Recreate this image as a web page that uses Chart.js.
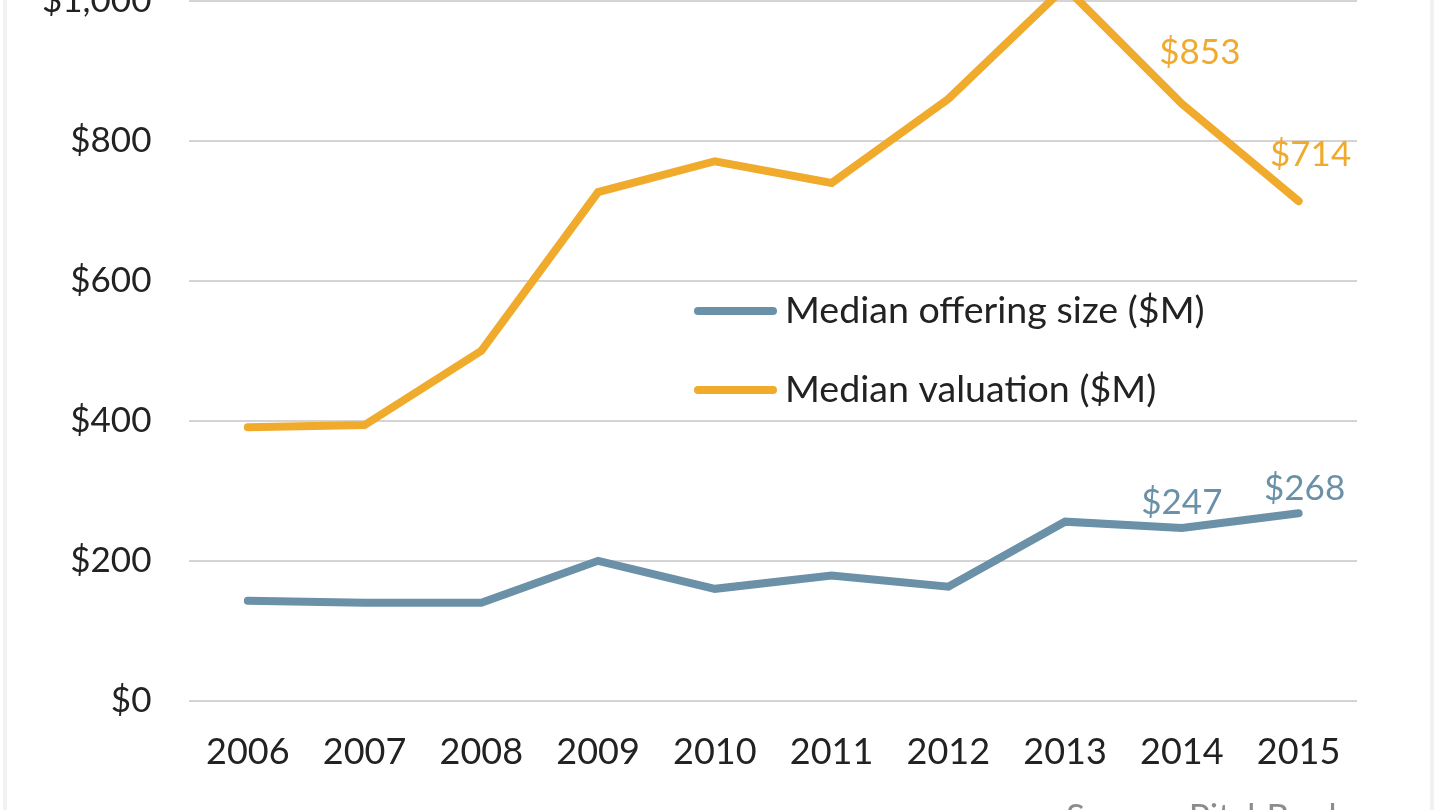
<!DOCTYPE html>
<html>
<head>
<meta charset="utf-8">
<script src="https://cdn.jsdelivr.net/npm/chart.js@4/dist/chart.umd.min.js"></script>
<style>
  html, body { margin: 0; padding: 0; background: #fff; overflow: hidden; }
  body { width: 1440px; height: 810px; position: relative; }
  #chart { position: absolute; left: 0; top: 0; }
  #source { position: absolute; left: 1066px; top: 794px; font: 35px Lato, sans-serif; color: #8c8c8c; white-space: nowrap; }
  #edgeL { position: absolute; left: 3px; top: 0; width: 4px; height: 810px; background: #f2f2f2; }
  #edgeR { position: absolute; left: 1430px; top: 0; width: 4px; height: 810px; background: #f2f2f2; }
</style>
</head>
<body>
<div id="edgeL"></div>
<div id="edgeR"></div>
<canvas id="chart" width="1440" height="810"></canvas>
<div id="source">Source: PitchBook</div>
<script>
var years = ["2006", "2007", "2008", "2009", "2010", "2011", "2012", "2013", "2014", "2015"];
var offeringSize = [143, 140, 140, 200, 160, 179, 163, 256, 247, 268];
var valuation = [391, 394, 500, 727, 771, 740, 860, 1020, 853, 714];
var labelledYears = ["2014", "2015"];

var blue = "#6a91a7";
var orange = "#f0aa2c";

// value labels on the last two points + legend drawn inside the plot
var extras = {
    id: 'extras',
    afterDatasetsDraw: function (chart) {
        var ctx = chart.ctx;
        var x = chart.scales.x, y = chart.scales.y;
        var offs = [[[0, -25], [6, -25]], [[18, -51], [12, -46]]];
        ctx.save();
        ctx.font = '35px Lato';
        ctx.textAlign = 'center';
        ctx.textBaseline = 'middle';
        chart.data.datasets.forEach(function (ds, di) {
            ctx.fillStyle = ds.borderColor;
            labelledYears.forEach(function (yr, k) {
                var i = years.indexOf(yr);
                ctx.fillText('$' + ds.data[i], x.getPixelForValue(i) + offs[di][k][0], y.getPixelForValue(ds.data[i]) + offs[di][k][1]);
            });
        });
        // legend
        var lx = 698, ly = [311, 390];
        ctx.textAlign = 'left';
        ctx.font = '37.6px Lato';
        chart.data.datasets.forEach(function (ds, di) {
            ctx.strokeStyle = ds.borderColor;
            ctx.lineWidth = 8;
            ctx.lineCap = 'round';
            ctx.beginPath();
            ctx.moveTo(lx, ly[di]);
            ctx.lineTo(lx + 75, ly[di]);
            ctx.stroke();
            ctx.fillStyle = '#222';
            ctx.fillText(ds.label, lx + 87, ly[di]);
        });
        ctx.restore();
    }
};

new Chart(document.getElementById("chart"), {
    type: 'line',
    data: {
        labels: years,
        datasets: [
            {
                label: "Median offering size ($M)",
                data: offeringSize,
                borderColor: blue,
                backgroundColor: blue,
                borderWidth: 8,
                borderCapStyle: 'round',
                pointRadius: 0,
                tension: 0,
                clip: false
            },
            {
                label: "Median valuation ($M)",
                data: valuation,
                borderColor: orange,
                backgroundColor: orange,
                borderWidth: 8,
                borderCapStyle: 'round',
                pointRadius: 0,
                tension: 0,
                clip: false
            }
        ]
    },
    options: {
        responsive: false,
        animation: false,
        layout: { padding: { top: 1, right: 83, left: 4, bottom: 14 } },
        plugins: {
            legend: { display: false },
            tooltip: { enabled: false }
        },
        scales: {
            x: {
                offset: true,
                grid: { display: false },
                border: { display: false },
                ticks: { color: '#222', font: { family: 'Lato', size: 36 }, padding: 22 }
            },
            y: {
                min: 0,
                max: 1000,
                grid: { color: '#d4d4d4', lineWidth: 2, drawTicks: false },
                border: { display: false },
                afterFit: function (s) { s.paddingTop = 0; s.paddingBottom = 0; },
                ticks: {
                    stepSize: 200,
                    color: '#222',
                    padding: 38,
                    font: { family: 'Lato', size: 35 },
                    callback: function (v) { return '$' + v.toLocaleString('en-US'); }
                }
            }
        }
    },
    plugins: [extras]
});
</script>
</body>
</html>
